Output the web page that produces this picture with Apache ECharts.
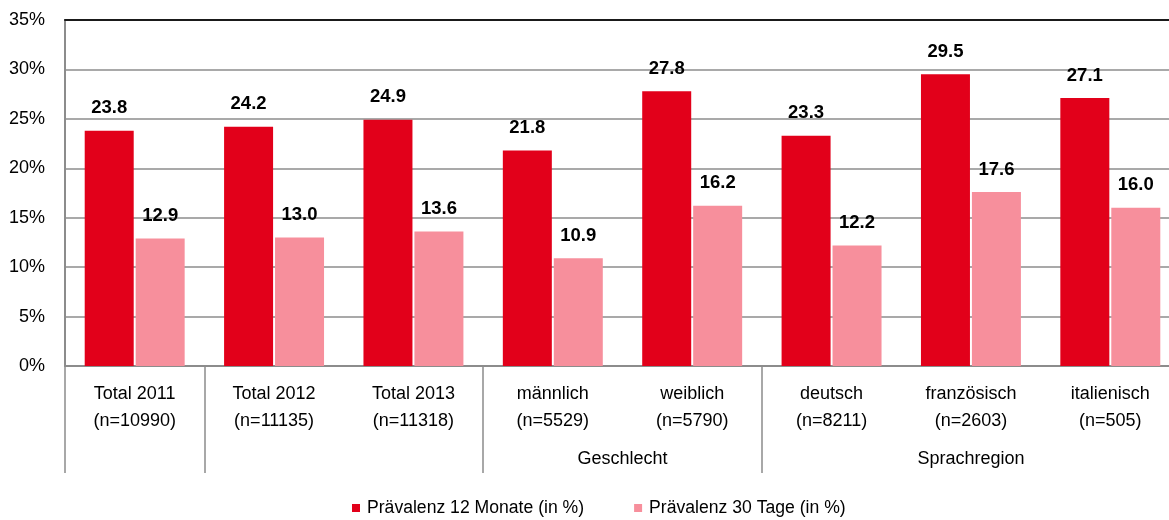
<!DOCTYPE html>
<html lang="de">
<head>
<meta charset="utf-8">
<script src="https://cdn.jsdelivr.net/npm/echarts@6/dist/echarts.min.js"></script>
<style>
  html, body { margin: 0; padding: 0; background: #fff; }
  #chart { width: 1169px; height: 520px; }
</style>
</head>
<body>
<div id="chart"></div>
<script>
const FONT = "'Liberation Sans', Arial, sans-serif";

const categories = [
  "Total 2011\n(n=10990)", "Total 2012\n(n=11135)", "Total 2013\n(n=11318)",
  "männlich\n(n=5529)", "weiblich\n(n=5790)",
  "deutsch\n(n=8211)", "französisch\n(n=2603)", "italienisch\n(n=505)"
];
const prev12 = [23.8, 24.2, 24.9, 21.8, 27.8, 23.3, 29.5, 27.1];
const prev30 = [12.9, 13.0, 13.6, 10.9, 16.2, 12.2, 17.6, 16.0];
const seriesNames = ["Prävalenz 12 Monate (in %)", "Prävalenz 30 Tage (in %)"];
// group labels sit on the 17 category boundaries / centres (half-band points)
const groupLabels = ["", "", "", "", "", "", "", "", "Geschlecht", "", "", "", "", "Sprachregion", "", "", ""];
const separatorIdx = [0, 1, 3, 5];

const chart = echarts.init(document.getElementById("chart"), null, { renderer: "canvas" });

const barLabel = {
  show: true,
  position: "top",
  distance: 13,
  fontFamily: FONT,
  fontSize: 18.5,
  fontWeight: "bold",
  color: "#000",
  formatter: (p) => p.value.toFixed(1),
};

chart.setOption({
  animation: false,
  backgroundColor: "#fff",
  textStyle: { fontFamily: FONT },
  grid: { left: 65, top: 20, width: 1115, bottom: 154, outerBoundsMode: "none" },
  legend: {
    top: 494,
    left: 347,
    icon: "rect",
    itemWidth: 8,
    itemHeight: 8,
    itemGap: 50,
    textStyle: { fontFamily: FONT, fontSize: 17.6, color: "#000", padding: [0, 0, 0, 2] },
    data: seriesNames,
  },
  xAxis: [
    {
      type: "category",
      data: categories,
      position: "bottom",
      axisLine: { show: true, lineStyle: { color: "#8c8c8c", width: 2 } },
      axisTick: {
        show: true,
        length: 107,
        interval: (idx) => separatorIdx.includes(idx),
        lineStyle: { color: "#8c8c8c", width: 1.5 },
      },
      axisLabel: {
        interval: 0,
        fontFamily: FONT,
        fontSize: 18,
        lineHeight: 27,
        color: "#000",
        margin: 15,
      },
    },
    {
      type: "category",
      data: groupLabels,
      position: "bottom",
      boundaryGap: false,
      axisLine: { show: false },
      axisTick: { show: false },
      axisLabel: {
        interval: 0,
        fontFamily: FONT,
        fontSize: 18,
        lineHeight: 27,
        color: "#000",
        margin: 80,
      },
    },
    {
      type: "category",
      data: categories,
      position: "top",
      axisLine: { show: true, lineStyle: { color: "#1a1a1a", width: 2 } },
      axisTick: { show: false },
      axisLabel: { show: false },
    },
  ],
  yAxis: {
    type: "value",
    min: 0,
    max: 35,
    interval: 5,
    axisLine: { show: true, lineStyle: { color: "#8c8c8c", width: 2 } },
    axisTick: { show: false },
    axisLabel: {
      formatter: "{value}%",
      fontFamily: FONT,
      fontSize: 18,
      color: "#000",
      margin: 20,
    },
    splitLine: { show: true, lineStyle: { color: "#8c8c8c", width: 1.5 } },
  },
  series: [
    {
      name: seriesNames[0],
      type: "bar",
      xAxisIndex: 0,
      data: prev12,
      barWidth: 49,
      barGap: "4%",
      itemStyle: { color: "#e2001a" },
      label: barLabel,
    },
    {
      name: seriesNames[1],
      type: "bar",
      xAxisIndex: 0,
      data: prev30,
      barWidth: 49,
      barGap: "4%",
      itemStyle: { color: "#f78f9c" },
      label: barLabel,
    },
  ],
});
</script>
</body>
</html>
